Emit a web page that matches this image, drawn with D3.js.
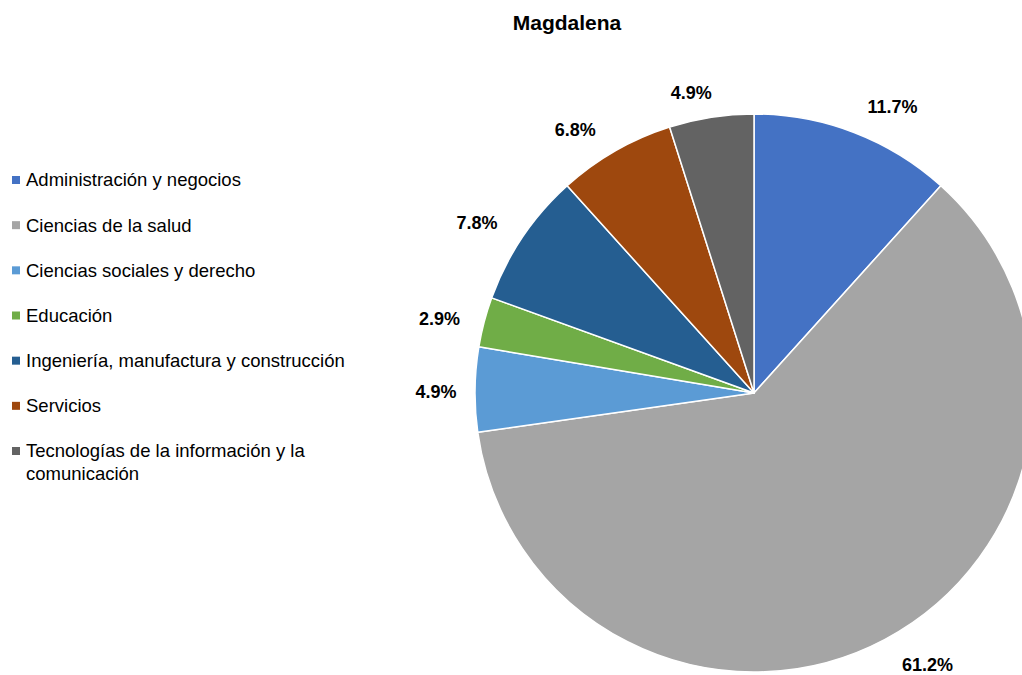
<!DOCTYPE html>
<html><head><meta charset="utf-8">
<script src="https://cdn.jsdelivr.net/npm/d3@7/dist/d3.min.js"></script>
<style>body{margin:0;background:#fff;}svg{display:block;font-family:"Liberation Sans",Arial,sans-serif;}</style>
</head><body>
<svg id="c" width="1022" height="675"></svg>
<script>
const categories = ["Administración y negocios","Ciencias de la salud","Ciencias sociales y derecho","Educación","Ingeniería, manufactura y construcción","Servicios","Tecnologías de la información y la comunicación"];
const values = [11.7, 61.2, 4.9, 2.9, 7.8, 6.8, 4.9];
const labels = ["11.7%","61.2%","4.9%","2.9%","7.8%","6.8%","4.9%"];
const colors = ["#4472C4","#A5A5A5","#5B9BD5","#70AD47","#255E91","#9E480E","#636363"];
const legendLines = [["Administración y negocios"],["Ciencias de la salud"],["Ciencias sociales y derecho"],["Educación"],["Ingeniería, manufactura y construcción"],["Servicios"],["Tecnologías de la información y la","comunicación"]];

// layout: label angle nudges (degrees) and radii
const labelNudge = [4.8, -4.6, -0.4, -1.5, -2.4, -4.4, -3.0];
const labelRadius = [318, 322, 318, 323, 325, 318, 307];

const svg = d3.select("#c");
const cx = 754, cy = 393, R = 279;

svg.append("text").attr("x", 567).attr("y", 30).attr("text-anchor","middle")
  .attr("font-size", 21).attr("font-weight","bold").attr("fill","#000").text("Magdalena");

const pie = d3.pie().sort(null).value(d => d);
const arcs = pie(values);
const arc = d3.arc().innerRadius(0).outerRadius(R);
const g = svg.append("g").attr("transform", `translate(${cx},${cy})`);
g.selectAll("path").data(arcs).join("path")
  .attr("d", arc).attr("fill", (d,i) => colors[i])
  .attr("stroke", "#fff").attr("stroke-width", 1.5).attr("stroke-linejoin","round");

g.selectAll("text.lbl").data(arcs).join("text").attr("class","lbl")
  .attr("transform", (d,i) => {
    const a = (d.startAngle + d.endAngle) / 2 + labelNudge[i] * Math.PI / 180;
    const r = labelRadius[i];
    return `translate(${r * Math.sin(a)},${-r * Math.cos(a)})`;
  })
  .attr("text-anchor","middle").attr("dy","0.35em")
  .attr("font-size", 18).attr("font-weight","bold").attr("fill","#000")
  .text((d,i) => labels[i]);

const leg = svg.append("g");
const rowY = d3.scalePoint().domain(d3.range(categories.length)).range([180, 451]);
categories.forEach((c,i) => {
  const y = rowY(i);
  leg.append("rect").attr("x", 12).attr("y", y - 4).attr("width", 8).attr("height", 8).attr("fill", colors[i]);
  const t = leg.append("text").attr("x", 26).attr("y", y)
    .attr("font-size", 18.5).attr("fill","#000");
  legendLines[i].forEach((ln, j) => {
    t.append("tspan").attr("x", 26).attr("dy", j === 0 ? "0.35em" : 23).text(ln);
  });
});
</script>
</body></html>
